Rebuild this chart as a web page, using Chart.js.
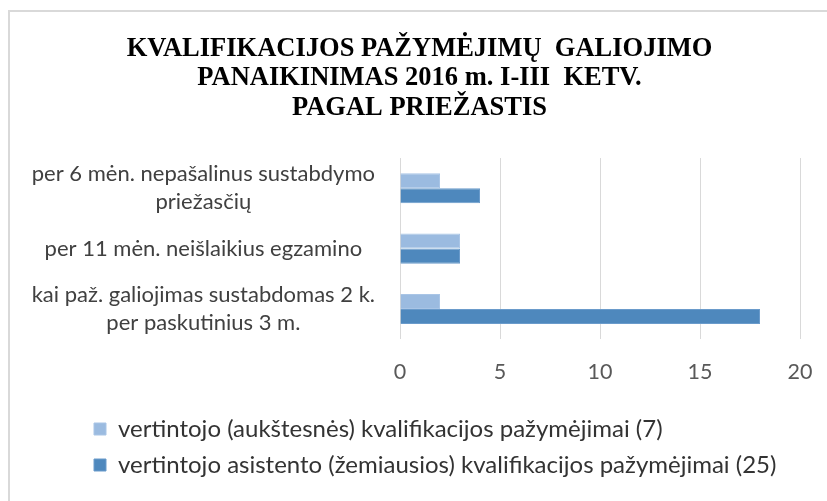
<!DOCTYPE html>
<html>
<head>
<meta charset="utf-8">
<script src="https://cdn.jsdelivr.net/npm/chart.js@4"></script>
<style>
  html, body { margin: 0; padding: 0; background: #ffffff; }
  #wrap { width: 827px; height: 501px; position: relative; }
</style>
</head>
<body>
<div id="wrap"><canvas id="c" width="827" height="501"></canvas></div>
<script>
const titleLines = [
  "KVALIFIKACIJOS PAŽYMĖJIMŲ  GALIOJIMO",
  "PANAIKINIMAS 2016 m. I-III  KETV.",
  "PAGAL PRIEŽASTIS"
];
const categories = [
  ["per 6 mėn. nepašalinus sustabdymo", "priežasčių"],
  ["per 11 mėn. neišlaikius egzamino"],
  ["kai paž. galiojimas sustabdomas 2 k.", "per paskutinius 3 m."]
];
const seriesNames = [
  "vertintojo (aukštesnės) kvalifikacijos pažymėjimai (7)",
  "vertintojo asistento (žemiausios) kvalifikacijos pažymėjimai (25)"
];
const higherValues = [2, 3, 2];
const assistantValues = [4, 3, 18];
const xTicks = [0, 5, 10, 15, 20];

const FONT = "Lato, 'Open Sans', sans-serif";

const framePlugin = {
  id: 'frame',
  beforeDraw(chart) {
    const ctx = chart.ctx;
    ctx.save();
    ctx.fillStyle = '#ffffff';
    ctx.fillRect(0, 0, chart.width, chart.height);
    ctx.strokeStyle = '#d9d9d9';
    ctx.lineWidth = 2;
    ctx.strokeRect(9, 11, chart.width + 20, chart.height + 20);
    ctx.restore();
  }
};

const blockShift = {
  id: 'blockShift',
  afterLayout(chart) {
    const lg = chart.legend;
    if (lg) {
      const w = lg.right - lg.left;
      lg.left = 82;
      lg.right = 82 + w;
    }
    const tb = chart.titleBlock;
    if (tb) {
      tb.left += 12;
    }
  }
};

new Chart(document.getElementById('c'), {
  type: 'bar',
  data: {
    labels: categories,
    datasets: [
      {
        label: seriesNames[0],
        data: higherValues,
        backgroundColor: '#9bbbe0',
        borderColor: '#a9c5e6',
        borderWidth: 1,
        categoryPercentage: 0.5,
        barPercentage: 1.0
      },
      {
        label: seriesNames[1],
        data: assistantValues,
        backgroundColor: '#4e88bd',
        borderColor: '#6a9bcb',
        borderWidth: 1,
        categoryPercentage: 0.5,
        barPercentage: 1.0
      }
    ]
  },
  options: {
    indexAxis: 'y',
    responsive: false,
    animation: false,
    devicePixelRatio: 1,
    layout: { padding: { left: 27, right: 27, top: 12, bottom: 14 } },
    scales: {
      x: {
        min: 0, max: 20,
        afterBuildTicks(scale) { scale.ticks = xTicks.map(v => ({ value: v })); },
        afterFit(scale) { scale.paddingRight = 0; scale.paddingLeft = 0; },
        grid: { color: '#d9d9d9', lineWidth: 1, drawTicks: false },
        border: { display: false },
        ticks: {
          color: '#595959',
          padding: 20,
          font: { family: FONT, size: 21.5 }
        }
      },
      y: {
        grid: { display: false },
        border: { display: false },
        afterFit(scale) { scale.width = 373; },
        ticks: {
          color: '#404040',
          padding: 17,
          crossAlign: 'center',
          font: { family: FONT, size: 22, lineHeight: 1.28 }
        }
      }
    },
    plugins: {
      title: {
        display: true,
        text: titleLines,
        color: '#000000',
        font: { family: "'Liberation Serif', 'Times New Roman', serif", size: 26.5, weight: 'bold', lineHeight: 1.12 },
        padding: { top: 22, bottom: 35 }
      },
      legend: {
        position: 'bottom',
        align: 'start',
        labels: {
          color: '#333333',
          boxWidth: 12,
          boxHeight: 12,
          padding: 12,
          font: { family: FONT, size: 24 }
        }
      },
      tooltip: { enabled: false }
    }
  },
  plugins: [framePlugin, blockShift]
});
</script>
</body>
</html>
